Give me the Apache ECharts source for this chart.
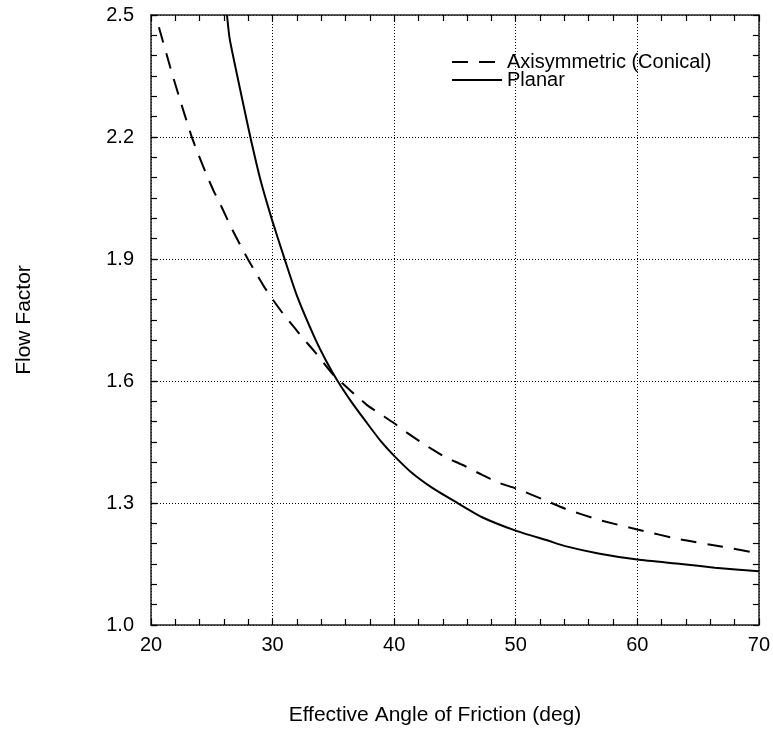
<!DOCTYPE html>
<html>
<head>
<meta charset="utf-8">
<script src="https://cdn.jsdelivr.net/npm/echarts@6/dist/echarts.min.js"></script>
<style>
  html, body { margin: 0; padding: 0; background: #fff; }
  #chart { width: 773px; height: 736px; }
</style>
</head>
<body>
<div id="chart"></div>
<script>
// ---- Data ----
const axisymX = [20.65, 21.56, 22.38, 23.33, 23.74, 24.5, 25.16, 25.71, 26.12, 26.69, 27.35, 27.98, 28.66, 29.26, 30.02, 30.9, 31.8, 32.48, 33.58, 35.0, 36.72, 37.8, 38.9, 40.0, 41.05, 42.18, 43.14, 44.26, 45.6, 47.24, 48.6, 50.0, 52.16, 54.07, 56.8, 60.0, 63.6, 66.9, 70.0];
const axisymY = [2.47, 2.374, 2.292, 2.202, 2.169, 2.112, 2.067, 2.034, 2.008, 1.972, 1.934, 1.899, 1.864, 1.834, 1.80, 1.764, 1.731, 1.706, 1.668, 1.615, 1.568, 1.540, 1.518, 1.496, 1.473, 1.450, 1.432, 1.412, 1.394, 1.369, 1.350, 1.336, 1.310, 1.286, 1.259, 1.235, 1.210, 1.193, 1.176];

const planarX = [26.25, 26.48, 27.51, 28.17, 29.0, 30.0, 31.0, 32.0, 33.44, 34.4, 35.35, 36.5, 37.68, 38.9, 40.0, 41.5, 43.14, 44.92, 47.24, 50.0, 52.7, 54.07, 56.8, 60.0, 63.6, 66.37, 70.0];
const planarY = [2.50, 2.44, 2.292, 2.20, 2.095, 1.992, 1.899, 1.810, 1.708, 1.650, 1.600, 1.548, 1.500, 1.452, 1.416, 1.373, 1.337, 1.305, 1.265, 1.232, 1.207, 1.194, 1.176, 1.161, 1.150, 1.141, 1.132];

const seriesNames = ['Axisymmetric (Conical)', 'Planar'];
const yMajorTicks = [1.0, 1.3, 1.6, 1.9, 2.2, 2.5];
const yMinorTicks = [1.0, 1.05, 1.1, 1.15, 1.2, 1.25, 1.3, 1.35, 1.4, 1.45, 1.5, 1.55, 1.6, 1.65, 1.7, 1.75, 1.8, 1.85, 1.9, 1.95, 2.0, 2.05, 2.1, 2.15, 2.2, 2.25, 2.3, 2.35, 2.4, 2.45, 2.5];
const xMin = 20, xMax = 70, xStep = 10;
const yMin = 1.0, yMax = 2.5;
const xTitle = 'Effective Angle of Friction (deg)';
const yTitle = 'Flow Factor';

// ---- Chart ----
const FONT = "'Liberation Sans', Arial, sans-serif";
const zip = (xs, ys) => xs.map((x, i) => [x, ys[i]]);

const chart = echarts.init(document.getElementById('chart'), null, { renderer: 'canvas' });

const frameLine = { show: true, lineStyle: { color: '#222', width: 1.5 } };
const tickStyle = { color: '#000', width: 1.2 };
const gridLine = { show: true, lineStyle: { color: '#000', width: 1, type: [1, 2] } };

chart.setOption({
  backgroundColor: '#fff',
  animation: false,
  grid: { left: 151, right: 12, top: 15, bottom: 111, containLabel: false },
  legend: {
    orient: 'vertical',
    left: 451,
    top: 52,
    padding: 0,
    itemWidth: 50,
    itemHeight: 10,
    itemGap: -2,
    itemStyle: { color: 'rgba(0,0,0,0)', borderColor: 'rgba(0,0,0,0)', borderWidth: 0, opacity: 0 },
    textStyle: { fontFamily: FONT, fontSize: 20, color: '#000' },
    data: seriesNames
  },
  xAxis: [
    {
      type: 'value', min: xMin, max: xMax, interval: xStep, position: 'bottom',
      axisLine: frameLine,
      axisTick: { show: true, inside: true, length: 6, lineStyle: tickStyle },
      minorTick: { show: true, splitNumber: 5, length: 6, lineStyle: tickStyle },
      splitLine: gridLine,
      axisLabel: { fontFamily: FONT, fontSize: 20, color: '#000', margin: 10 },
      name: xTitle, nameLocation: 'middle', nameGap: 80,
      nameTextStyle: { fontFamily: FONT, fontSize: 21, color: '#000', padding: [0, 40, 0, 0] }
    },
    {
      type: 'value', min: xMin, max: xMax, interval: xStep, position: 'top',
      axisLine: frameLine,
      axisTick: { show: true, inside: true, length: 6, lineStyle: tickStyle },
      minorTick: { show: true, splitNumber: 5, length: 6, lineStyle: tickStyle },
      splitLine: { show: false },
      axisLabel: { show: false }
    }
  ],
  yAxis: [
    {
      type: 'value', min: yMin, max: yMax, position: 'left',
      axisLine: frameLine,
      axisTick: { show: true, inside: true, length: 6, lineStyle: tickStyle, customValues: yMajorTicks },
      splitLine: gridLine,
      axisLabel: {
        fontFamily: FONT, fontSize: 20, color: '#000', margin: 17,
        customValues: yMajorTicks,
        formatter: v => Number(v).toFixed(1)
      },
      name: yTitle, nameLocation: 'middle', nameGap: 116,
      nameTextStyle: { fontFamily: FONT, fontSize: 21, color: '#000' }
    },
    {
      type: 'value', min: yMin, max: yMax, position: 'right',
      axisLine: frameLine,
      axisTick: { show: true, inside: true, length: 6, lineStyle: tickStyle, customValues: yMinorTicks },
      splitLine: { show: false },
      axisLabel: { show: false }
    },
    {
      type: 'value', min: yMin, max: yMax, position: 'left',
      axisLine: { show: false },
      axisTick: { show: true, inside: true, length: 6, lineStyle: tickStyle, customValues: yMinorTicks },
      splitLine: { show: false },
      axisLabel: { show: false }
    }
  ],
  series: [
    {
      name: seriesNames[0], type: 'line', xAxisIndex: 0, yAxisIndex: 0,
      data: zip(axisymX, axisymY),
      symbol: 'none', smooth: 0.2,
      lineStyle: { color: '#000', width: 2, type: [16, 11] },
      itemStyle: { color: '#000' }
    },
    {
      name: seriesNames[1], type: 'line', xAxisIndex: 0, yAxisIndex: 0,
      data: zip(planarX, planarY),
      symbol: 'none', smooth: 0.2,
      lineStyle: { color: '#000', width: 2, type: 'solid' },
      itemStyle: { color: '#000' }
    }
  ]
});
</script>
</body>
</html>
